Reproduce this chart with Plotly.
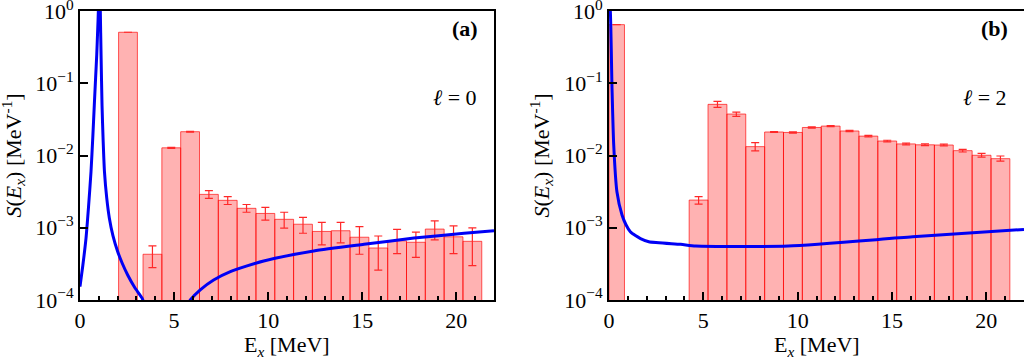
import plotly.graph_objects as go

# ---------------- data ----------------
# panel (a), l = 0
a_centers = [2.55, 3.85, 4.85, 5.85, 6.85, 7.85, 8.85, 9.85, 10.85, 11.85, 12.85,
             13.85, 14.85, 15.85, 16.85, 17.85, 18.85, 19.85, 20.85]
a_widths = [1.0] + [1.0] * 18
a_values = [0.51, 4.3e-4, 0.0128, 0.0214, 2.9e-3, 2.4e-3, 1.86e-3, 1.58e-3, 1.31e-3, 1.12e-3,
            8.9e-4, 9.1e-4, 7.4e-4, 5.25e-4, 6.6e-4, 6.3e-4, 9.6e-4, 7.5e-4, 6.5e-4]
a_err_plus = [0.0, 1.3e-4, 2e-4, 3e-4, 3.7e-4, 3.0e-4, 2.4e-4, 3.4e-4, 3.3e-4, 2.7e-4,
              3.0e-4, 2.8e-4, 3.0e-4, 2.45e-4, 2.9e-4, 2.4e-4, 2.9e-4, 3.1e-4, 3.5e-4]
a_err_minus = [0.0, 1.5e-4, 2e-4, 3e-4, 3.5e-4, 3.0e-4, 2.2e-4, 3.0e-4, 3.2e-4, 2.8e-4,
               3.1e-4, 2.9e-4, 3.1e-4, 2.65e-4, 2.2e-4, 2.4e-4, 2.8e-4, 3.1e-4, 3.5e-4]

a_curve1_E = [0.0, 0.15, 0.32, 0.45, 0.585, 0.68, 0.76, 0.83, 0.89, 0.94, 0.975, 1.02,
              1.08, 1.12, 1.17, 1.23, 1.30, 1.42, 1.56, 1.75, 2.0, 2.25, 2.54, 2.9, 3.30, 3.40]
a_curve1_S = [1.53e-4, 3.0e-4, 7.2e-4, 1.9e-3, 6.0e-3, 1.8e-2, 5.0e-2, 1.2e-1, 2.5e-1, 5.5e-1, 1.0, 8.0,
              1.0, 2.4e-1, 5.0e-2, 1.6e-2, 6.0e-3, 2.6e-3, 1.36e-3, 7.8e-4, 4.7e-4, 3.2e-4, 2.2e-4, 1.5e-4, 1.06e-4, 9.0e-5]
a_curve2_E = [5.75, 5.86, 6.39, 7.10, 7.99, 9.76, 12.42, 15.09, 17.75, 20.41, 22.0]
a_curve2_S = [9.0e-5, 1.0e-4, 1.38e-4, 1.89e-4, 2.47e-4, 3.47e-4, 4.77e-4, 5.9e-4, 7.2e-4, 8.4e-4, 9.1e-4]

# panel (b), l = 2
b_centers = [0.41, 4.75, 5.75, 6.75, 7.75, 8.75, 9.75, 10.75, 11.75, 12.75, 13.75,
             14.75, 15.75, 16.75, 17.75, 18.75, 19.75, 20.75]
b_widths = [0.82] + [1.0] * 17
b_values = [0.65, 2.42e-3, 0.0512, 0.0376, 0.0133, 0.0212, 0.0209, 0.0245, 0.0256, 0.0219,
            0.0186, 0.0159, 0.0145, 0.0141, 0.0140, 0.0117, 0.0101, 0.00906]
b_err_plus = [0.0, 2.8e-4, 5.0e-3, 2.4e-3, 1.8e-3, 3e-4, 4e-4, 5e-4, 4e-4, 4e-4,
              4e-4, 4e-4, 4e-4, 4e-4, 4e-4, 5e-4, 6e-4, 8e-4]
b_err_minus = [0.0, 2.9e-4, 4.7e-3, 2.7e-3, 1.7e-3, 3e-4, 4e-4, 5e-4, 4e-4, 4e-4,
               4e-4, 4e-4, 4e-4, 4e-4, 4e-4, 5e-4, 6e-4, 7e-4]

b_curve_E = [0.0, 0.07, 0.16, 0.25, 0.42, 0.69, 0.9, 1.13, 1.40, 1.67, 2.11, 3.8, 4.6, 9.5, 16.1, 22.0]
b_curve_S = [1.5, 1.0, 8.5e-2, 1.4e-2, 3.16e-3, 1.5e-3, 1.1e-3, 8.8e-4, 7.8e-4, 7.1e-4, 6.4e-4,
             5.9e-4, 5.6e-4, 5.6e-4, 7.5e-4, 9.5e-4]

y_tickvals = [1e-4, 1e-3, 1e-2, 1e-1, 1e0]
y_ticktext = ["10<sup>−4</sup>", "10<sup>−3</sup>", "10<sup>−2</sup>", "10<sup>−1</sup>", "10<sup>0</sup>"]
x_tickvals = [0, 5, 10, 15, 20]
panel_labels = ["<b>(a)</b>", "<b>(b)</b>"]
ell_labels = ["<i>ℓ</i> = 0", "<i>ℓ</i> = 2"]
x_title = "E<sub><i>x</i></sub> [MeV]"
y_title = "<i>S</i>(<i>E<sub>x</sub></i>) [MeV<sup>-1</sup>]"

# ---------------- styles ----------------
FONT = "Liberation Serif"
BAR_FILL = "rgba(255,0,0,0.3)"
BAR_LINE = "rgba(255,0,0,0.65)"
ERR_COL = "rgb(255,40,40)"
CURVE = "rgb(0,0,245)"

fig = go.Figure()

def add_panel(xa, ya, centers, widths, values, ep, em, curves):
    fig.add_trace(go.Bar(
        x=centers, y=values, width=widths, xaxis=xa, yaxis=ya,
        marker=dict(color=BAR_FILL, line=dict(color=BAR_LINE, width=1)),
        error_y=dict(type="data", symmetric=False, array=ep, arrayminus=em,
                     color=ERR_COL, thickness=1.2, width=4),
        showlegend=False, hoverinfo="skip"))
    for cx, cy in curves:
        fig.add_trace(go.Scatter(
            x=cx, y=cy, xaxis=xa, yaxis=ya, mode="lines",
            line=dict(color=CURVE, width=3, shape="spline", smoothing=0.6),
            showlegend=False, hoverinfo="skip"))

add_panel("x", "y", a_centers, a_widths, a_values, a_err_plus, a_err_minus,
          [(a_curve1_E, a_curve1_S), (a_curve2_E, a_curve2_S)])
add_panel("x2", "y2", b_centers, b_widths, b_values, b_err_plus, b_err_minus,
          [(b_curve_E, b_curve_S)])

W, H = 1024, 360
T, B = 11, 60
PH = H - T - B
dom_a = [80 / W, 494 / W]
dom_b = [609 / W, 1.0]

xcommon = dict(range=[0, 22], tickvals=x_tickvals, ticks="inside", ticklen=8, tickwidth=2,
               tickcolor="black", showline=True, linewidth=2, linecolor="black", mirror=True,
               showgrid=False, zeroline=False, automargin=False,
               minor=dict(dtick=1, tick0=0, ticks="inside", ticklen=4, tickwidth=2, tickcolor="black"),
               tickfont=dict(family=FONT, size=22, color="black"))
ycommon = dict(type="log", range=[-4, 0.002], tickvals=y_tickvals, ticktext=y_ticktext,
               ticks="inside", ticklen=8, tickwidth=2, tickcolor="black",
               showline=True, linewidth=2, linecolor="black", mirror=True,
               showgrid=False, zeroline=False, automargin=False, ticklabeloverflow="allow",
               tickfont=dict(family=FONT, size=22, color="black"))

fig.update_layout(
    width=W, height=H,
    margin=dict(l=0, r=0, t=T, b=B, pad=0),
    paper_bgcolor="white", plot_bgcolor="white",
    barmode="overlay",
    xaxis=dict(domain=dom_a, anchor="y", **xcommon),
    yaxis=dict(domain=[0, 1], anchor="x", **ycommon),
    xaxis2=dict(domain=dom_b, anchor="y2", **xcommon),
    yaxis2=dict(domain=[0, 1], anchor="x2", **ycommon),
)

tfont = dict(family=FONT, size=22, color="black")
for i, (xr, yr) in enumerate([("x domain", "y domain"), ("x2 domain", "y2 domain")]):
    fig.add_annotation(x=0.93, y=0.94, xref=xr, yref=yr, text=panel_labels[i], showarrow=False,
                       font=dict(family=FONT, size=22, color="black"), xanchor="center", yanchor="middle")
    fig.add_annotation(x=0.905, y=0.70, xref=xr, yref=yr, text=ell_labels[i], showarrow=False,
                       font=dict(family=FONT, size=22, color="black"), xanchor="center", yanchor="middle")
    # x-axis title
    fig.add_annotation(x=0.5, y=-(346 - (H - B)) / PH, xref=xr, yref="paper", text=x_title,
                       showarrow=False, font=tfont, xanchor="center", yanchor="middle")

# y-axis titles
for xpix in [13, 541]:
    fig.add_annotation(x=xpix / W, y=0.5, xref="paper", yref="paper", text=y_title, textangle=-90,
                       showarrow=False, font=tfont, xanchor="center", yanchor="middle")

fig.write_html("out.html", config={"displayModeBar": False},
               post_script="document.body.style.margin='0';document.body.style.overflow='hidden';")
